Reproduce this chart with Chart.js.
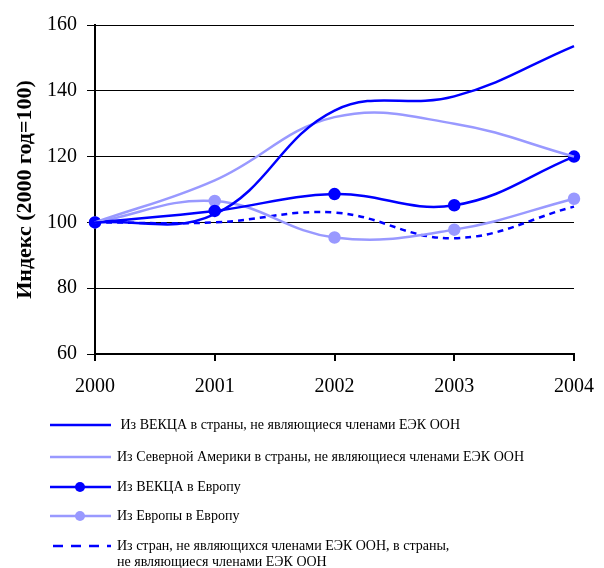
<!DOCTYPE html>
<html>
<head>
<meta charset="utf-8">
<script src="https://cdn.jsdelivr.net/npm/chart.js@4"></script>
<style>
  html, body { margin: 0; padding: 0; background: #fff; }
  #wrap { width: 604px; height: 568px; }
</style>
</head>
<body>
<div id="wrap"><canvas id="myChart" width="604" height="568"></canvas></div>
<script>
// data
const years = ['2000', '2001', '2002', '2003', '2004'];
const vekcaToNonMembers = [100, 102.5, 134, 138.3, 153.6];
const northAmericaToNonMembers = [100, 112.8, 132, 130, 120];
const vekcaToEurope = [100, 103.5, 108.6, 105.2, 120];
const europeToEurope = [100, 106.5, 95.4, 97.8, 107.2];
const nonMembersToNonMembers = [100, 100, 103, 95.2, 104.8];

const seriesLabels = [
    ' Из ВЕКЦА в страны, не являющиеся членами ЕЭК ООН',
    'Из Северной Америки в страны, не являющиеся членами ЕЭК ООН',
    'Из ВЕКЦА в Европу',
    'Из Европы в Европу',
    ['Из стран, не являющихся членами ЕЭК ООН, в страны,', 'не являющиеся членами ЕЭК ООН'],
];

const DARK = '#0000ff';
const LIGHT = '#9999ff';
const FONT = '"Liberation Serif", "Times New Roman", serif';

// legend drawn under the plot, Excel style
const bottomLegend = {
    id: 'bottomLegend',
    afterDraw(chart) {
        const ctx = chart.ctx;
        const rows = [425, 457, 487, 516, 546];
        ctx.save();
        chart.data.datasets.forEach((ds, i) => {
            const y = rows[i];
            ctx.strokeStyle = ds.borderColor;
            ctx.lineWidth = ds.borderWidth;
            ctx.setLineDash(ds.borderDash ? [10, 8] : []);
            ctx.beginPath();
            ctx.moveTo(ds.borderDash ? 53 : 50, y);
            ctx.lineTo(111, y);
            ctx.stroke();
            ctx.setLineDash([]);
            if (ds.pointRadius > 0) {
                ctx.fillStyle = ds.borderColor;
                ctx.beginPath();
                ctx.arc(80, y, ds.pointRadius, 0, Math.PI * 2);
                ctx.fill();
            }
            ctx.fillStyle = '#000';
            ctx.font = '14px ' + FONT;
            ctx.textBaseline = 'middle';
            const lab = seriesLabels[i];
            if (Array.isArray(lab)) {
                lab.forEach((t, k) => ctx.fillText(t, 117, y + k * 16));
            } else {
                ctx.fillText(lab, 117, y);
            }
        });
        ctx.restore();
    }
};

function line(data, color, dots, dash) {
    return {
        data: data,
        borderColor: color,
        backgroundColor: color,
        borderWidth: 2.5,
        borderDash: dash ? [6, 5] : undefined,
        pointRadius: dots ? 5 : 0,
        pointHoverRadius: dots ? 5 : 0,
        tension: 0.4,
        fill: false
    };
}

new Chart(document.getElementById('myChart'), {
    type: 'line',
    data: {
        labels: years,
        datasets: [
            line(vekcaToNonMembers, DARK, false, false),
            line(northAmericaToNonMembers, LIGHT, false, false),
            line(vekcaToEurope, DARK, true, false),
            line(europeToEurope, LIGHT, true, false),
            line(nonMembersToNonMembers, DARK, false, true),
        ]
    },
    options: {
        responsive: false,
        animation: false,
        layout: { padding: { left: 0, top: 25, right: 30, bottom: 174 } },
        plugins: {
            legend: { display: false },
            tooltip: { enabled: false }
        },
        scales: {
            x: {
                offset: false,
                afterFit(scale) {
                    scale.height = 40;
                    scale.paddingLeft = 0;
                    scale.paddingRight = 0;
                },
                grid: { drawOnChartArea: false, drawTicks: true, tickLength: 7, color: '#000', lineWidth: 2 },
                border: { color: '#000', width: 2 },
                ticks: { color: '#000', font: { family: FONT, size: 20 }, padding: 14, maxRotation: 0 }
            },
            y: {
                min: 60,
                max: 160,
                afterFit(scale) {
                    scale.width = 95;
                    scale.paddingTop = 0;
                    scale.paddingBottom = 0;
                },
                ticks: { stepSize: 20, color: '#000', font: { family: FONT, size: 20 }, padding: 10 },
                grid: { color: '#000', lineWidth: 1, tickLength: 8 },
                border: { color: '#000', width: 2 },
                title: {
                    display: true,
                    text: 'Индекс (2000 год=100)',
                    color: '#000',
                    font: { family: FONT, size: 22, weight: 'bold' },
                    padding: { top: 12, bottom: 4 }
                }
            }
        }
    },
    plugins: [bottomLegend]
});
</script>
</body>
</html>
